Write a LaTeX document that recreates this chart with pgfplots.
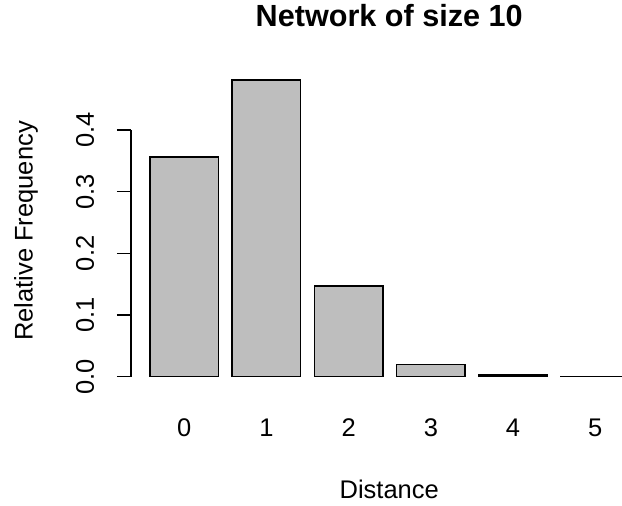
\documentclass[border=0pt]{standalone}
\usepackage{pgfplots}
\pgfplotsset{compat=1.18}
\usepackage{fontspec}
\setmainfont{Liberation Sans}
\definecolor{bargray}{RGB}{190,190,190}
\begin{document}
\begin{tikzpicture}
\begin{axis}[
 name=ax,
 scale only axis,
 width=491.2bp, height=320.4bp,
 xmin=-0.08, xmax=7.0905,
 ymin=-0.01924, ymax=0.5002,
 clip=false,
 axis line style={draw=none},
 ybar, bar width=1,
 xtick={0.7,1.9,3.1,4.3,5.5,6.7},
 xticklabels={0,1,2,3,4,5},
 xtick style={draw=none},
 xticklabel style={anchor=center, yshift=-24.9bp},
 ytick={0,0.1,0.2,0.3,0.4},
 yticklabels={0.0,0.1,0.2,0.3,0.4},
 ytick pos=left,
 tick align=outside,
 major tick length=14bp,
 ytick style={black, line width=1.5bp},
 yticklabel style={xshift=-31.8bp, rotate=90, anchor=center},
 tick label style={font=\fontsize{25.5bp}{30bp}\selectfont},
 label style={font=\fontsize{25.5bp}{30bp}\selectfont},
 title={Network of size 10},
 title style={at={(axis description cs:0.5261,1.1442)}, anchor=center, font=\bfseries\fontsize{30.6bp}{36bp}\selectfont},
 xlabel={Distance},
 xlabel style={at={(axis description cs:0.5261,-0.3134)}, anchor=center},
 ylabel={Relative Frequency},
 ylabel style={at={(axis description cs:-0.2134,0.4919)}, anchor=center},
]
\addplot[fill=bargray, draw=black, line width=1.5bp] coordinates {(0.7,0.3566) (1.9,0.481) (3.1,0.147) (4.3,0.020) (5.5,0.0028) (6.7,0.0004)};
\draw[line width=1.5bp] (axis cs:-0.08,0) -- (axis cs:-0.08,0.4);
\end{axis}
\pgfresetboundingbox
\path (ax.south west) ++(-130.8bp,-117.4bp) rectangle ++(622bp,506bp);
\end{tikzpicture}
\end{document}
